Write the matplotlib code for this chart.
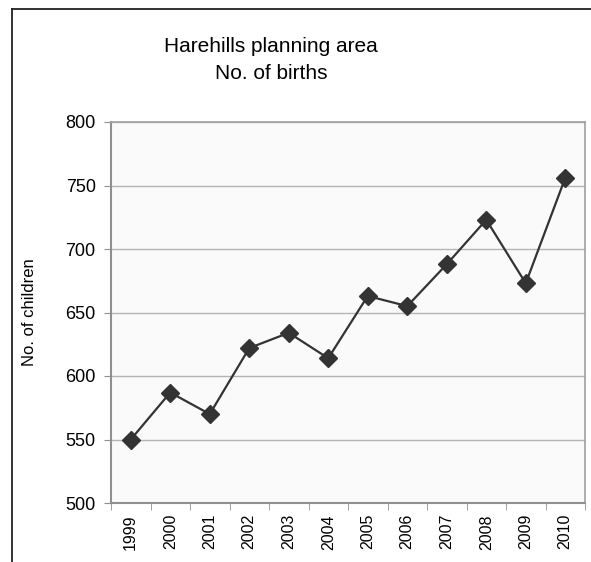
import matplotlib
matplotlib.use("Agg")
import matplotlib.pyplot as plt
from matplotlib.lines import Line2D
import numpy as np

plt.rcParams["font.family"] = ["Liberation Sans", "DejaVu Sans"]

years = ["1999", "2000", "2001", "2002", "2003", "2004",
         "2005", "2006", "2007", "2008", "2009", "2010"]
births = [550, 587, 570, 622, 634, 614, 663, 655, 688, 723, 673, 756]

W, H = 591, 562
fig = plt.figure(figsize=(W / 100, H / 100), dpi=100)
fig.patch.set_facecolor("white")

# plot area in pixel terms
left, right, top, bottom = 111, 585, 122, 503
ax = fig.add_axes([left / W, 1 - bottom / H, (right - left) / W, (bottom - top) / H])
ax.set_facecolor("#fafafa")

x = np.arange(len(years))
ax.plot(x, births, color="#333333", linewidth=1.6, marker="D",
        markersize=9, markerfacecolor="#333333", markeredgecolor="#333333", zorder=3)

ax.set_xlim(-0.5, len(years) - 0.5)
ax.set_ylim(500, 800)
ax.set_yticks(np.arange(500, 801, 50))
ax.yaxis.grid(True, color="#b4b4b4", linewidth=1.0)
ax.set_axisbelow(True)

# category labels centred, tick marks between categories
ax.set_xticks(x)
ax.set_xticklabels(years, rotation=90, fontsize=11.5)
ax.set_xticks(np.arange(-0.5, len(years)), minor=True)
ax.tick_params(axis="x", which="major", length=0, pad=8)
ax.tick_params(axis="x", which="minor", length=5, color="#909090", direction="out")
ax.tick_params(axis="y", length=5, color="#909090", labelsize=13, pad=6)

for s in ax.spines.values():
    s.set_color("#a0a0a0")
    s.set_linewidth(1.2)
ax.spines["left"].set_color("#909090")
ax.spines["bottom"].set_color("#909090")
ax.spines["left"].set_linewidth(1.5)
ax.spines["bottom"].set_linewidth(1.5)

ax.set_ylabel("No. of children", fontsize=12)
ax.yaxis.set_label_coords((37 - left) / (right - left), 0.5)

fig.text(271 / W, 1 - 60 / H, "Harehills planning area\nNo. of births",
         ha="center", va="center", fontsize=15, linespacing=1.5)

# outer frame (cut off at right and bottom)
fig.add_artist(Line2D([11.5 / W, 11.5 / W], [0, 1 - 8.5 / H], color="#222222",
                      linewidth=1.3, transform=fig.transFigure))
fig.add_artist(Line2D([11.5 / W, 1], [1 - 8.5 / H, 1 - 8.5 / H], color="#222222",
                      linewidth=1.3, transform=fig.transFigure))

fig.savefig("out.png", dpi=100)
